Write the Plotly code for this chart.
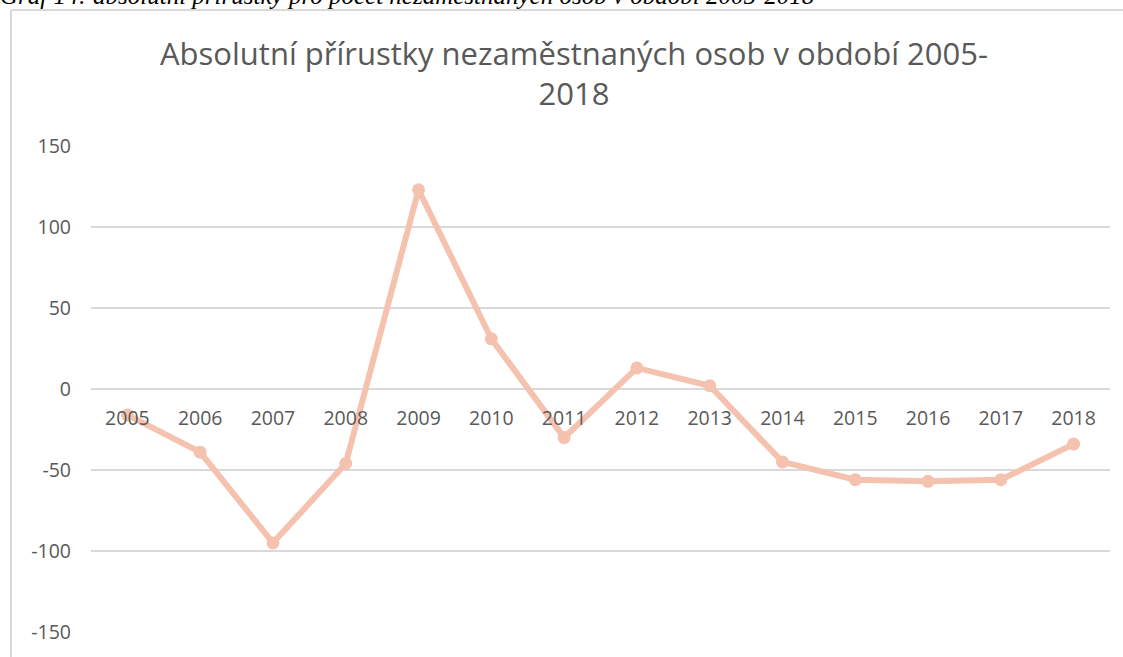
import plotly.graph_objects as go

years = ["2005", "2006", "2007", "2008", "2009", "2010", "2011",
         "2012", "2013", "2014", "2015", "2016", "2017", "2018"]
increments = [-16, -39, -95, -46, 123, 31, -30, 13, 2, -45, -56, -57, -56, -34]
y_ticks = [-150, -100, -50, 0, 50, 100, 150]
y_tick_labels = ["-150", "-100", "-50", "0", "50", "100", "150"]

title_text = "Absolutní přírustky nezaměstnaných osob v období 2005-<br>2018"
caption_text = "Graf 14: absolutní přírůstky pro počet nezaměstnaných osob v období 2005-2018"

W, H = 1123, 657
L, R, T, B = 91, 13, 146, 25
pw, ph = W - L - R, H - T - B

def px_x(px):
    return (px - L) / pw

def px_y(py):
    return (H - B - py) / ph

line_color = "rgb(244,194,174)"
grey = "#595959"
grid = "#d9d9d9"

fig = go.Figure()
fig.add_trace(go.Scatter(
    x=list(range(len(years))), y=increments, mode="lines+markers",
    line=dict(color=line_color, width=6),
    marker=dict(color=line_color, size=13),
    hoverinfo="skip", showlegend=False,
))

fig.update_layout(
    width=W, height=H,
    margin=dict(l=L, r=R, t=T, b=B),
    paper_bgcolor="white", plot_bgcolor="white",
    font=dict(family="Open Sans", color=grey),
    xaxis=dict(
        range=[-0.5, len(years) - 0.5],
        tickmode="array", tickvals=list(range(len(years))), ticktext=years,
        showgrid=False, zeroline=False, showline=False, ticks="",
        anchor="free", position=0.5, ticklabelstandoff=15,
        tickfont=dict(size=19.5, color=grey, family="Open Sans"),
    ),
    yaxis=dict(
        range=[-150, 150], tickmode="array", tickvals=y_ticks,
        ticktext=y_tick_labels,
        showgrid=True, gridcolor=grid, gridwidth=1.6,
        zeroline=False, showline=False, ticks="",
        ticklabelstandoff=19,
        tickfont=dict(size=19.5, color=grey, family="Open Sans"),
    ),
    shapes=[
        dict(type="line", xref="paper", yref="paper",
             x0=px_x(11), x1=px_x(11), y0=px_y(10), y1=px_y(H + 5),
             line=dict(color=grid, width=2)),
        dict(type="line", xref="paper", yref="paper",
             x0=px_x(11), x1=px_x(W + 5), y0=px_y(10), y1=px_y(10),
             line=dict(color=grid, width=2)),
    ],
    annotations=[
        dict(text=title_text, xref="paper", yref="paper",
             x=px_x(574), y=px_y(73), xanchor="center", yanchor="middle",
             showarrow=False, align="center",
             font=dict(family="Open Sans", size=31, color=grey)),
        dict(text="<i>" + caption_text + "</i>", xref="paper", yref="paper",
             x=px_x(-2), y=px_y(11), xanchor="left", yanchor="bottom",
             showarrow=False, align="left",
             font=dict(family="Liberation Serif", size=25, color="black")),
    ],
)

fig.write_html("out.html", config={"displayModeBar": False},
               post_script="document.body.style.margin='0px';")
